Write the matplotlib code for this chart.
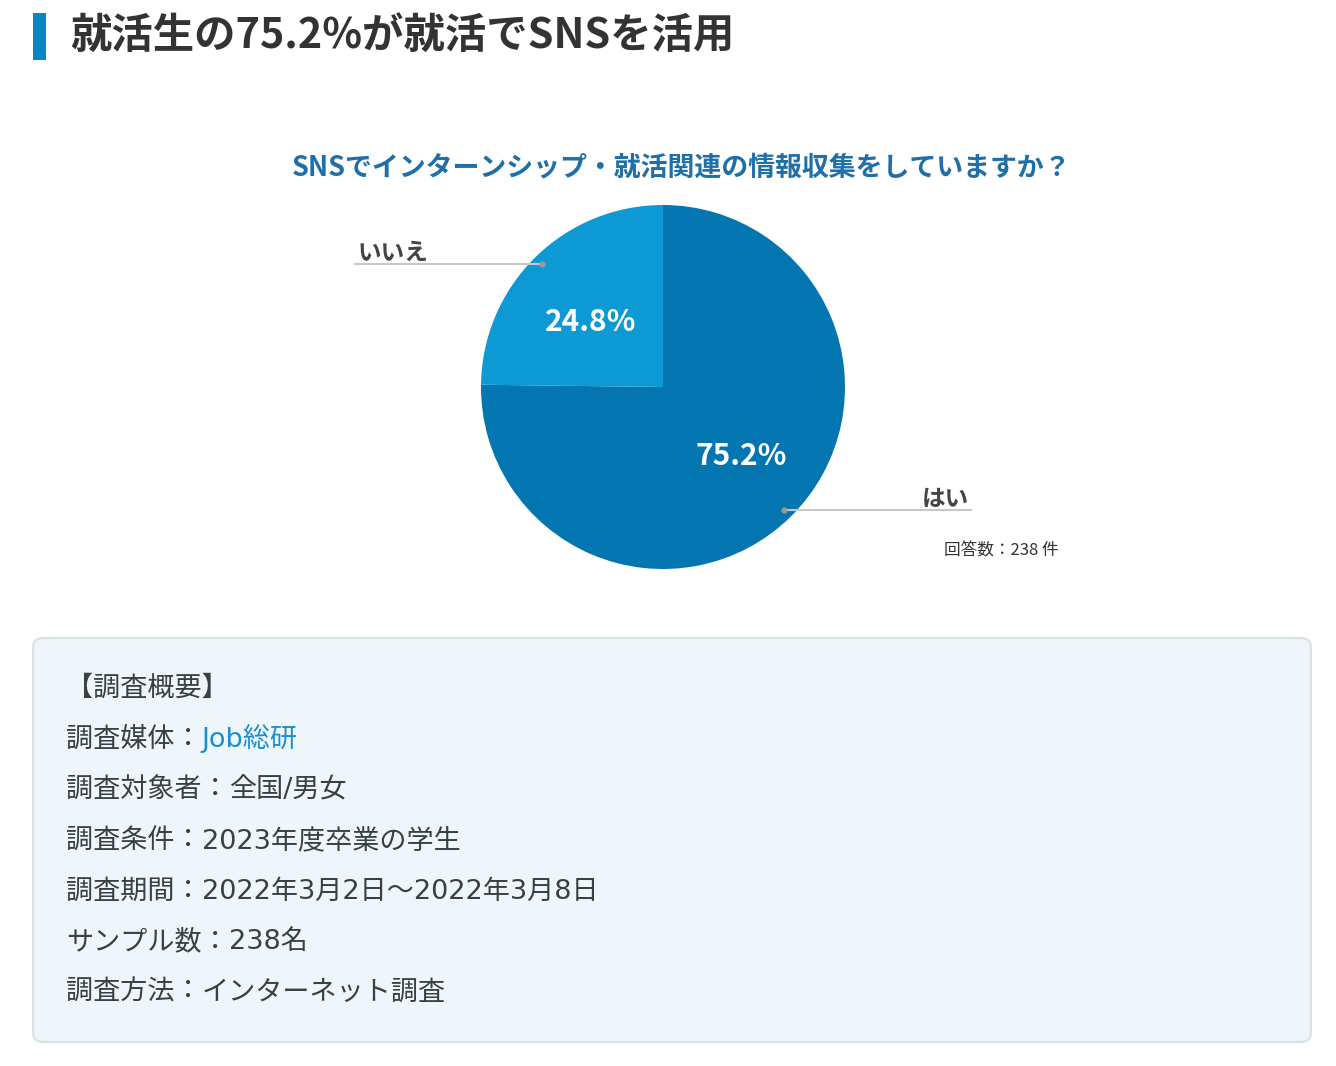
import matplotlib
matplotlib.use("Agg")
import matplotlib.pyplot as plt
from matplotlib.patches import FancyBboxPatch, Rectangle
import numpy as np

plt.rcParams['font.family'] = ['Noto Sans CJK JP', 'DejaVu Sans']
BOX_FONT = ['DejaVu Sans', 'Noto Sans CJK JP']

# ---- data ----
heading = "就活生の75.2%が就活でSNSを活用"
question = "SNSでインターンシップ・就活関連の情報収集をしていますか？"
categories = ["はい", "いいえ"]
values = [75.2, 24.8]
slice_colors = ["#0375b0", "#0d9ad4"]
n_note = "回答数：238 件"
summary_title = "【調査概要】"
summary_keys = ["調査媒体：", "調査対象者：", "調査条件：", "調査期間：", "サンプル数：", "調査方法："]
summary_vals = ["Job総研", "全国/男女", "2023年度卒業の学生", "2022年3月2日～2022年3月8日", "238名", "インターネット調査"]

# label placement (style): (radius fraction, angle in degrees)
pct_polar = [(0.572, -41.5), (0.537, 138.0)]

W, H = 1336, 1066
fig = plt.figure(figsize=(W / 100, H / 100), dpi=100)
fig.patch.set_facecolor("white")

bg = fig.add_axes([0, 0, 1, 1])
bg.set_xlim(0, W)
bg.set_ylim(H, 0)
bg.axis("off")

# heading
bg.add_patch(Rectangle((33, 13), 13, 47, color="#0a86c6", lw=0))
bg.text(70, 37, heading, fontsize=29.8, fontweight="bold", color="#333333",
        va="center", ha="left")

# question
bg.text(681.5, 168, question, fontsize=19.4, fontweight="bold", color="#1f6fa8",
        va="center", ha="center")

# note
bg.text(1059, 551, n_note, fontsize=12, color="#333333", va="center", ha="right")

# summary box
box = FancyBboxPatch((33, 638), 1278, 404, boxstyle="round,pad=0,rounding_size=10",
                     facecolor="#eef6f9", edgecolor="#d3e2e9", lw=1.5)
bg.add_patch(box)
bg.text(66, 689, summary_title, fontsize=19.5, color="#3a3f47", va="center", ha="left",
        family=BOX_FONT)
for i, (k, v) in enumerate(zip(summary_keys, summary_vals)):
    y = 740 + i * 50.5
    t = bg.text(66, y, k, fontsize=19.5, color="#3a3f47", va="center", ha="left",
                family=BOX_FONT)
    bg.annotate(v, xy=(1, 0), xycoords=t, fontsize=19.5, family=BOX_FONT,
                color="#1a8fd0" if i == 0 else "#3a3f47", va="bottom", ha="left")

# pie
cx, cy, r = 663, 387, 182
pax = fig.add_axes([(cx - r) / W, (H - cy - r) / H, 2 * r / W, 2 * r / H])
wedges, texts, autotexts = pax.pie(values, colors=slice_colors, startangle=90,
                                   counterclock=False, autopct="%.1f%%",
                                   pctdistance=0.56, radius=1,
                                   wedgeprops=dict(linewidth=0),
                                   textprops=dict(color="white", fontsize=21.5, fontweight="bold"))
for at, (d, a) in zip(autotexts, pct_polar):
    at.set_position((d * np.cos(np.deg2rad(a)), d * np.sin(np.deg2rad(a))))
pax.set_xlim(-1, 1)
pax.set_ylim(-1, 1)
pax.set_aspect("equal")
pax.axis("off")

for w, lab in zip(wedges, categories):
    ang = np.deg2rad((w.theta1 + w.theta2) / 2)
    x0, y0 = 0.95 * np.cos(ang), 0.95 * np.sin(ang)
    side = np.sign(x0)
    xe = 1.69 * side
    pax.plot([x0, xe], [y0, y0], color="#c8c8c8", lw=1.5, clip_on=False, zorder=3)
    pax.plot([x0], [y0], "o", color="#9a9a9a", ms=3.5, clip_on=False, zorder=4)
    pax.text(xe - 0.01 * side, y0 - 0.005, lab, fontsize=17, fontweight="bold",
             color="#444444", ha="right" if side > 0 else "left", va="bottom",
             clip_on=False)

fig.savefig("out.png", dpi=100, facecolor="white")
